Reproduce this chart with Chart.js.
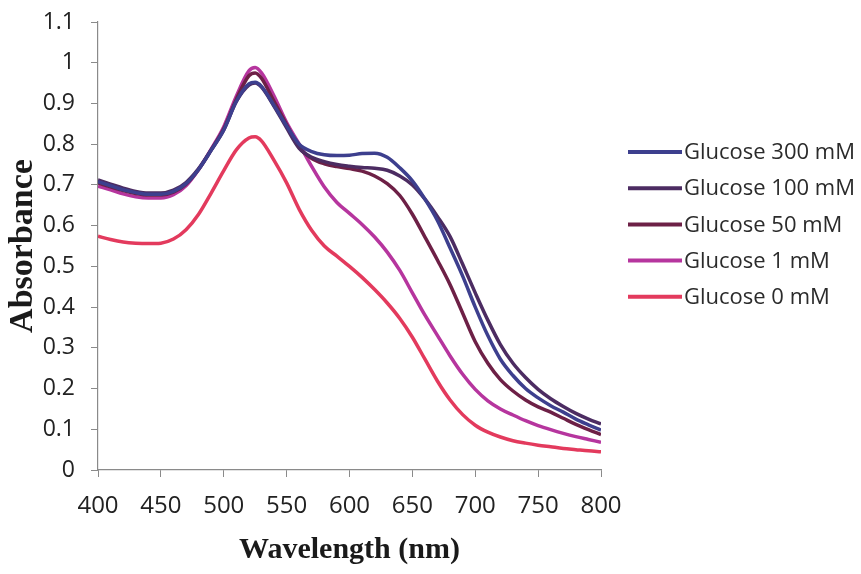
<!DOCTYPE html>
<html>
<head>
<meta charset="utf-8">
<script src="https://cdn.jsdelivr.net/npm/chart.js@4.4.1/dist/chart.umd.min.js"></script>
<style>
  html, body { margin: 0; padding: 0; background: #fff; }
  #wrap { width: 861px; height: 574px; position: relative; }
</style>
</head>
<body>
<div id="wrap"><canvas id="spectra" width="861" height="574"></canvas></div>
<script>
// wavelength (nm)
const wavelengths = [400, 410, 420, 430, 440, 450, 460, 470, 480, 490, 500, 510, 520, 525, 530, 540, 550, 560, 570, 580,
    590, 600, 610, 620, 630, 640, 650, 660, 670, 680, 690, 700, 710, 720, 730, 740, 750, 760, 770, 780, 790, 800];

// absorbance per glucose concentration
const glucose300 = [0.708, 0.698, 0.688, 0.681, 0.677, 0.677, 0.684, 0.703, 0.738, 0.785, 0.835, 0.905, 0.948, 0.952, 0.942, 0.895, 0.845, 0.800, 0.782, 0.774,
    0.772, 0.773, 0.777, 0.778, 0.768, 0.742, 0.710, 0.665, 0.612, 0.545, 0.476, 0.400, 0.330, 0.272, 0.232, 0.200, 0.177, 0.158, 0.142, 0.125, 0.111, 0.098];
const glucose100 = [0.712, 0.702, 0.692, 0.684, 0.680, 0.680, 0.687, 0.706, 0.740, 0.786, 0.835, 0.905, 0.945, 0.950, 0.940, 0.893, 0.840, 0.790, 0.768, 0.757,
    0.750, 0.746, 0.743, 0.741, 0.736, 0.722, 0.700, 0.665, 0.622, 0.573, 0.505, 0.435, 0.368, 0.308, 0.262, 0.227, 0.198, 0.175, 0.156, 0.139, 0.125, 0.113];
const glucose50 = [0.705, 0.695, 0.686, 0.679, 0.675, 0.675, 0.682, 0.702, 0.738, 0.786, 0.838, 0.910, 0.968, 0.975, 0.962, 0.905, 0.848, 0.792, 0.765, 0.752,
    0.745, 0.740, 0.734, 0.722, 0.703, 0.674, 0.628, 0.572, 0.515, 0.455, 0.385, 0.315, 0.262, 0.222, 0.194, 0.172, 0.155, 0.142, 0.127, 0.112, 0.099, 0.087];
const glucose1 = [0.697, 0.688, 0.678, 0.671, 0.668, 0.668, 0.676, 0.698, 0.738, 0.788, 0.843, 0.918, 0.980, 0.988, 0.975, 0.918, 0.853, 0.800, 0.745, 0.695,
    0.657, 0.630, 0.603, 0.572, 0.535, 0.490, 0.435, 0.380, 0.330, 0.280, 0.235, 0.198, 0.170, 0.150, 0.135, 0.121, 0.109, 0.099, 0.090, 0.082, 0.075, 0.068];
const glucose0 = [0.574, 0.566, 0.560, 0.557, 0.556, 0.557, 0.567, 0.590, 0.628, 0.680, 0.735, 0.786, 0.815, 0.818, 0.808, 0.760, 0.705, 0.640, 0.588, 0.550,
    0.525, 0.500, 0.473, 0.443, 0.410, 0.372, 0.326, 0.272, 0.218, 0.172, 0.136, 0.110, 0.093, 0.081, 0.072, 0.066, 0.061, 0.057, 0.053, 0.050, 0.047, 0.045];

const seriesNames = ['Glucose 300 mM', 'Glucose 100 mM', 'Glucose 50 mM', 'Glucose 1 mM', 'Glucose 0 mM'];
const seriesValues = [glucose300, glucose100, glucose50, glucose1, glucose0];
const seriesColors = ['#3d3f8e', '#4c2c62', '#6d2046', '#b6359e', '#e33a5d'];

const xTicks = [400, 450, 500, 550, 600, 650, 700, 750, 800];

const datasets = seriesNames.map(function (name, i) {
    return {
        label: name,
        data: wavelengths.map((w, j) => ({ x: w, y: seriesValues[i][j] })),
        borderColor: seriesColors[i],
        backgroundColor: seriesColors[i],
        borderWidth: 3.5,
        pointRadius: 0,
        cubicInterpolationMode: 'monotone',
        fill: false
    };
});

// legend drawn to the right of the plot, one row per series
const sideLegend = {
    id: 'sideLegend',
    afterDraw(chart) {
        const ctx = chart.ctx;
        const left = chart.chartArea.right + 27;
        ctx.save();
        ctx.font = '22px "Open Sans"';
        ctx.textBaseline = 'middle';
        chart.data.datasets.forEach(function (ds, i) {
            const y = 152 + i * 36.2;
            ctx.strokeStyle = ds.borderColor;
            ctx.lineWidth = 4;
            ctx.beginPath();
            ctx.moveTo(left, y);
            ctx.lineTo(left + 54, y);
            ctx.stroke();
            ctx.fillStyle = '#2b2b2b';
            ctx.fillText(ds.label, left + 56, y + 1);
        });
        ctx.restore();
    }
};

const ctx = document.getElementById('spectra').getContext('2d');
new Chart(ctx, {
    type: 'line',
    data: { datasets: datasets },
    plugins: [sideLegend],
    options: {
        responsive: false,
        animation: false,
        layout: { padding: { top: 22, right: 260, left: 0, bottom: 0 } },
        plugins: {
            legend: { display: false },
            tooltip: { enabled: false }
        },
        scales: {
            x: {
                type: 'linear',
                min: 400,
                max: 800,
                afterFit: function (scale) {
                    scale.height = 104;
                    scale.paddingLeft = 0;
                    scale.paddingRight = 0;
                },
                afterBuildTicks: function (scale) { scale.ticks = xTicks.map(v => ({ value: v })); },
                grid: { drawOnChartArea: false, drawTicks: true, tickLength: 7, color: '#8a8a8a' },
                border: { color: '#8a8a8a', width: 1.2 },
                ticks: {
                    color: '#222',
                    padding: 15,
                    maxRotation: 0,
                    font: { family: '"Open Sans"', size: 24 }
                },
                title: {
                    display: true,
                    text: 'Wavelength (nm)',
                    color: '#1a1a1a',
                    font: { family: '"Liberation Serif"', size: 30, weight: 'bold' },
                    padding: { top: 4, bottom: 6 }
                }
            },
            y: {
                min: 0,
                max: 1.1,
                afterFit: function (scale) {
                    scale.width = 98;
                    scale.paddingTop = 0;
                    scale.paddingBottom = 0;
                },
                ticks: {
                    stepSize: 0.1,
                    color: '#222',
                    padding: 16,
                    font: { family: '"Open Sans"', size: 23 },
                    callback: v => String(Math.round(v * 10) / 10)
                },
                grid: { drawOnChartArea: false, drawTicks: true, tickLength: 7, color: '#8a8a8a' },
                border: { color: '#8a8a8a', width: 1.2 },
                title: {
                    display: true,
                    text: 'Absorbance',
                    color: '#1a1a1a',
                    font: { family: '"Liberation Serif"', size: 34, weight: 'bold' },
                    padding: { top: 3, bottom: 0 }
                }
            }
        }
    }
});
</script>
</body>
</html>
